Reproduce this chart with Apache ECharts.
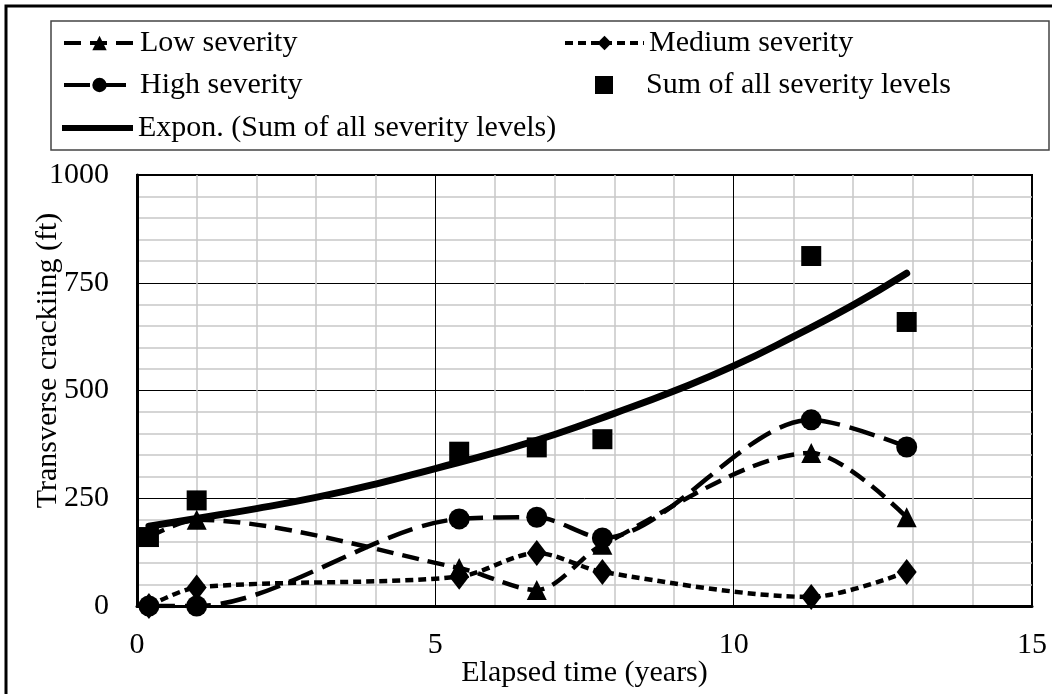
<!DOCTYPE html>
<html>
<head>
<meta charset="utf-8">
<script src="https://cdn.jsdelivr.net/npm/echarts@6/dist/echarts.min.js"></script>
<style>
  html, body { margin: 0; padding: 0; background: #fff; }
  #chart { width: 1052px; height: 694px; }
</style>
</head>
<body>
<div id="chart"></div>
<script>
// values
const years = [0.2, 1.0, 5.4, 6.7, 7.8, 11.3, 12.9]
const lowSeverity = [160, 200, 88, 37, 142, 355, 206]
const mediumSeverity = [0, 43, 68, 123, 79, 21, 79]
const highSeverity = [0, 0, 202, 206, 158, 432, 369]
const sumAll = [160, 245, 358, 368, 387, 812, 659]
// points read along the exponential trendline
const trendYears = [0.2, 1, 2, 3, 4, 5, 6, 7, 8, 9, 10, 11, 12, 12.9]
const trendValues = [185, 203, 226, 252, 283, 319, 356, 398, 447, 499, 557, 625, 698, 772]

const FONT = 'Liberation Serif'
const pairs = (xs, ys) => xs.map((x, i) => [x, ys[i]])

const chart = echarts.init(document.getElementById('chart'))

const legendText = { fontFamily: FONT, fontSize: 30, color: '#000', lineHeight: 30 }
function legendAt(item, left, top, width, height, textPad) {
  return {
    data: [item], left: left, top: top, orient: 'horizontal',
    padding: 0, itemWidth: width, itemHeight: height || 18, itemGap: 0,
    selectedMode: false,
    lineStyle: { width: 4 },
    textStyle: Object.assign({}, legendText, { padding: [0, 0, 0, textPad || 0] })
  }
}

const option = {
  animation: false,
  backgroundColor: '#fff',
  graphic: [
    { type: 'rect', shape: { x: 6, y: 6, width: 1070, height: 710 },
      style: { fill: 'none', stroke: '#000', lineWidth: 3 }, z: -1 },
    { type: 'rect', shape: { x: 51, y: 21, width: 998, height: 129 },
      style: { fill: 'none', stroke: '#444', lineWidth: 1.5 }, z: -1 }
  ],
  legend: [
    legendAt('Low severity', 62, 28, 71),
    legendAt('Medium severity', 563, 28, 79),
    legendAt('High severity', 62, 70, 71),
    legendAt({ name: 'Sum of all severity levels', icon: 'rect' }, 595, 70, 18, 18, 28),
    legendAt({ name: 'Expon. (Sum of all severity levels)', icon: 'rect' }, 62, 113, 71, 6)
  ],
  grid: {
    left: 137, right: 20, top: 175, bottom: 88,
    outerBoundsMode: 'none',
    show: true, borderColor: '#000', borderWidth: 2
  },
  xAxis: {
    type: 'value', min: 0, max: 15, interval: 5,
    name: 'Elapsed time (years)', nameLocation: 'middle', nameGap: 52,
    nameMoveOverlap: false,
    nameTextStyle: { fontFamily: FONT, fontSize: 30, color: '#000' },
    axisLine: { show: true, onZero: false, lineStyle: { color: '#000', width: 3 } },
    axisTick: { show: false },
    axisLabel: { fontFamily: FONT, fontSize: 30, color: '#000', margin: 24 },
    splitLine: { show: true, lineStyle: { color: '#000', width: 1 } },
    minorTick: { show: false, splitNumber: 5 },
    minorSplitLine: { show: true, lineStyle: { color: '#c8c8c8', width: 1.5 } }
  },
  yAxis: {
    type: 'value', min: 0, max: 1000, interval: 250,
    name: 'Transverse crackiing (ft)', nameLocation: 'middle', nameGap: 74,
    nameMoveOverlap: false,
    nameTextStyle: { fontFamily: FONT, fontSize: 30, color: '#000', padding: [0, 0, 0, 60] },
    axisLine: { show: true, lineStyle: { color: '#000', width: 3 } },
    axisTick: { show: false },
    axisLabel: { fontFamily: FONT, fontSize: 30, color: '#000', margin: 28, formatter: v => String(v) },
    splitLine: { show: true, lineStyle: { color: '#000', width: 1 } },
    minorTick: { show: false, splitNumber: 5 },
    minorSplitLine: { show: true, lineStyle: { color: '#c8c8c8', width: 1.5 } }
  },
  series: [
    {
      name: 'Low severity', type: 'line', smooth: 0.3,
      data: pairs(years, lowSeverity),
      symbol: 'triangle', symbolSize: 20,
      itemStyle: { color: '#000' },
      lineStyle: { color: '#000', width: 4.5, type: [17, 9] },
      z: 3
    },
    {
      name: 'Medium severity', type: 'line', smooth: 0.3,
      data: pairs(years, mediumSeverity),
      symbol: 'diamond', symbolSize: [20, 26],
      itemStyle: { color: '#000' },
      lineStyle: { color: '#000', width: 4.5, type: [8, 5] },
      z: 3
    },
    {
      name: 'High severity', type: 'line', smooth: 0.3,
      data: pairs(years, highSeverity),
      symbol: 'circle', symbolSize: 21,
      itemStyle: { color: '#000' },
      lineStyle: { color: '#000', width: 4.5, type: [26, 10] },
      z: 3
    },
    {
      name: 'Sum of all severity levels', type: 'scatter',
      data: pairs(years, sumAll),
      symbol: 'rect', symbolSize: 20,
      itemStyle: { color: '#000', opacity: 1 },
      z: 4
    },
    {
      name: 'Expon. (Sum of all severity levels)', type: 'line', smooth: true,
      data: pairs(trendYears, trendValues),
      showSymbol: false, symbol: 'none',
      lineStyle: { color: '#000', width: 7, cap: 'round' },
      itemStyle: { color: '#000' },
      z: 5
    }
  ]
}

chart.setOption(option)
</script>
</body>
</html>
